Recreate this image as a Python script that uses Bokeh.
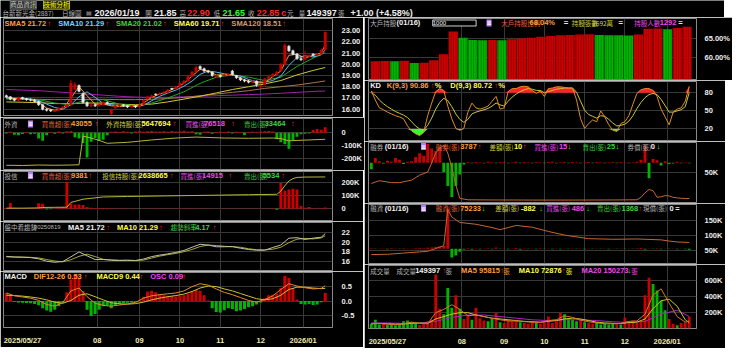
import numpy as np
from bokeh.plotting import figure
from bokeh.layouts import column, row
from bokeh.models import Range1d, FixedTicker, Label, ColumnDataSource
from bokeh.embed import file_html
from bokeh.resources import INLINE

# ---------------- data (one bar = two trading days, 2025/05/27 .. 2026/01/19) ----------------
BAR_IDX = list(range(80))
LINE_IDX2 = list(range(0, 80, 2)) + [79]
LINE_IDX4 = list(range(0, 80, 4)) + [79]

MONTH_TICKS = [22.5, 33, 43, 53, 63, 73.5]
AXIS_TICKS = [4, 22.5, 33, 43, 53, 63, 73.5]
AXIS_LABELS = ["2025/05/27", "08", "09", "10", "11", "12", "2026/01"]

OPEN = [17.20, 17.10, 16.90, 16.80, 17.05, 16.95, 16.85, 16.80, 16.70, 16.40,
        16.00, 15.95, 15.80, 15.90, 16.10, 16.20, 16.40, 17.80, 18.10, 17.40,
        16.60, 16.30, 16.40, 16.30, 16.40, 16.60, 15.60, 16.10, 16.30, 16.40,
        16.30, 16.20, 16.30, 16.20, 16.40, 16.90, 17.10, 17.35, 17.30, 17.40,
        17.50, 17.85, 17.80, 18.00, 18.30, 18.50, 18.90, 19.30, 19.80, 19.60,
        19.40, 19.30, 18.90, 19.00, 18.95, 19.05, 19.40, 19.00, 18.80, 18.60,
        18.50, 18.40, 18.50, 18.00, 18.20, 18.70, 18.90, 19.10, 19.40, 20.00,
        21.60, 21.20, 20.90, 20.50, 20.40, 20.70, 20.90, 20.80, 20.90, 21.30]
CLOSE = [17.10, 16.90, 16.80, 17.00, 16.95, 16.85, 16.80, 16.70, 16.40, 16.00,
         15.90, 15.85, 15.90, 16.10, 16.20, 16.40, 18.30, 18.20, 17.60, 16.60,
         16.30, 16.40, 16.30, 16.40, 16.60, 16.50, 15.95, 16.30, 16.40, 16.30,
         16.20, 16.30, 16.20, 16.40, 16.80, 17.10, 17.20, 17.30, 17.40, 17.50,
         17.70, 17.80, 18.00, 18.30, 18.50, 18.90, 19.30, 19.70, 19.60, 19.40,
         19.30, 19.00, 19.00, 18.90, 19.05, 19.10, 19.10, 18.80, 18.60, 18.50,
         18.40, 18.50, 18.20, 18.10, 18.70, 18.90, 19.10, 19.30, 20.00, 21.70,
         21.20, 20.90, 20.50, 20.40, 20.70, 20.80, 20.80, 20.90, 21.25, 22.85]
HIGH = [17.30, 17.15, 17.00, 17.10, 17.10, 17.00, 16.95, 16.90, 16.75, 16.45,
        16.10, 16.00, 16.00, 16.15, 16.30, 16.50, 18.60, 18.40, 18.20, 17.50,
        16.70, 16.50, 16.50, 16.50, 16.70, 16.70, 16.05, 16.40, 16.45, 16.45,
        16.35, 16.35, 16.35, 16.45, 16.90, 17.20, 17.30, 17.40, 17.50, 17.60,
        17.80, 17.90, 18.10, 18.40, 18.60, 19.00, 19.40, 19.90, 19.90, 19.70,
        19.50, 19.35, 19.10, 19.10, 19.15, 19.20, 19.50, 19.05, 18.85, 18.70,
        18.60, 18.60, 18.55, 18.20, 18.80, 19.00, 19.20, 19.40, 20.10, 21.85,
        21.70, 21.30, 21.00, 20.70, 21.20, 20.90, 21.00, 21.00, 21.40, 22.90]
LOW = [17.00, 16.80, 16.70, 16.75, 16.85, 16.75, 16.70, 16.60, 16.30, 15.90,
       15.80, 15.75, 15.75, 15.85, 16.05, 16.15, 16.30, 17.70, 17.50, 16.50,
       16.20, 16.20, 16.20, 16.25, 16.35, 16.40, 15.50, 16.05, 16.20, 16.20,
       16.10, 16.15, 16.10, 16.15, 16.35, 16.85, 17.00, 17.20, 17.25, 17.35,
       17.45, 17.70, 17.75, 17.95, 18.25, 18.45, 18.85, 19.25, 19.50, 19.30,
       19.20, 18.90, 18.85, 18.80, 18.90, 19.00, 19.00, 18.70, 18.50, 18.40,
       18.30, 18.35, 18.00, 17.95, 18.15, 18.65, 18.85, 19.05, 19.35, 19.95,
       21.10, 20.80, 20.40, 20.30, 20.35, 20.60, 20.70, 20.75, 20.85, 21.20]

SMA5 = [17.10, 16.95, 16.92, 16.85, 16.60, 16.10, 15.90, 16.05, 17.00, 18.00,
        17.20, 16.45, 16.45, 16.30, 16.25, 16.30, 16.25, 16.55, 17.05, 17.35,
        17.60, 17.90, 18.30, 18.95, 19.55, 19.40, 19.05, 19.05, 19.10, 18.75,
        18.50, 18.35, 18.35, 18.90, 19.40, 20.80, 20.90, 20.55, 20.80, 21.00, 21.72]
SMA10 = [17.00, 16.98, 16.95, 16.90, 16.78, 16.45, 16.15, 16.00, 16.40, 17.10,
         17.55, 17.05, 16.50, 16.40, 16.30, 16.30, 16.25, 16.35, 16.75, 17.15,
         17.45, 17.70, 18.05, 18.50, 19.10, 19.40, 19.30, 19.15, 19.05, 18.95,
         18.65, 18.45, 18.40, 18.55, 18.95, 19.90, 20.60, 20.75, 20.65, 20.85, 21.29]
SMA20 = [16.95, 16.95, 16.85, 16.55, 16.40, 16.85, 16.85, 16.45, 16.30, 16.55,
         17.00, 17.55, 18.30, 18.85, 19.05, 18.85, 18.55, 18.85, 19.80, 20.55, 21.02]
SMA60 = [16.65, 16.62, 16.58, 16.50, 16.50, 16.55, 16.55, 16.45, 16.40, 16.45,
         16.65, 16.90, 17.15, 17.45, 17.75, 18.00, 18.25, 18.55, 19.05, 19.45, 19.71]
SMA120 = [16.90, 16.90, 16.88, 16.85, 16.85, 16.88, 16.88, 16.85, 16.85, 16.88,
          16.95, 17.05, 17.20, 17.35, 17.50, 17.65, 17.85, 18.00, 18.15, 18.35, 18.51]
SMA240 = [17.75, 17.70, 17.65, 17.55, 17.45, 17.35, 17.25, 17.15, 17.08, 17.05,
          17.05, 17.10, 17.15, 17.20, 17.25, 17.30, 17.35, 17.42, 17.50, 17.58, 17.62]

FOREIGN_NET = [-5000, 8000, -15000, -20000, -10000, 6000, -12000, -8000, -45000, -62000,
               -20000, 5000, -8000, 10000, -6000, 12000, 15000, -35000, -45000, -80000,
               -195000, -70000, -40000, -65000, -55000, -20000, 8000, 10000, 6000, 12000,
               8000, -5000, 10000, 14000, 9000, 12000, 15000, 8000, 11000, 13000,
               9000, 14000, 10000, 12000, 16000, 10000, 13000, -12000, -15000, 8000,
               10000, -8000, 6000, 9000, 7000, 11000, -6000, 8000, 5000, -18000,
               6000, 9000, 7000, 10000, 12000, 14000, 10000, -50000, -75000, -90000,
               -125000, -60000, -30000, -12000, -8000, -5000, 22000, 30000, 25000, 43055]
FOREIGN_HOLD_X = [0, 4, 8, 12, 16, 18, 19, 21, 23, 25, 30, 36, 42, 47, 54, 60, 66, 68, 70, 72, 75, 79]
FOREIGN_HOLD = [4560000, 4550000, 4570000, 4560000, 4570000, 4580000, 5780000, 5700000, 5600000,
                5480000, 5520000, 5620000, 5700000, 5740000, 5700000, 5690000, 5700000, 5680000,
                5580000, 5600000, 5620000, 5647694]

TRUST_NET = [5000, 45000, 8000, 3000, 2000, 4000, 3000, 6000, 42000, 38000,
             -6000, -4000, 2000, 8000, 12000, 210000, 40000, 30000, 32000, 28000,
             12000, 8000, 6000, 5000, 6000, 4000, 3000, 2000, 3000, 2000,
             1000, 2000, 1000, -2000, 1000, 2000, 1000, 2000, 3000, 1000,
             2000, 1000, 2000, 1000, 3000, 2000, 4000, 2000, 1000, 2000,
             1000, 1000, -1000, 2000, 1000, 1000, 2000, 1000, 1000, 2000,
             1000, 1000, 1000, 2000, 1000, 2000, 3000, -8000, 200000, 140000,
             150000, 155000, 150000, 20000, 8000, 12000, 4000, 2000, 3000, 9381]
TRUST_HOLD_X = [0, 4, 8, 9, 12, 15, 16, 19, 24, 30, 40, 50, 60, 67, 68, 69, 70, 71, 72, 74, 79]
TRUST_HOLD = [20000, 20000, 40000, 80000, 90000, 100000, 500000, 770000, 960000, 1000000,
              1050000, 1100000, 1150000, 1180000, 1450000, 1900000, 2300000, 2500000,
              2600000, 2630000, 2638665]

OSC = [0.28, 0.20, -0.03, -0.05, -0.06, -0.07, -0.08, -0.10, -0.15, -0.25,
       -0.33, -0.37, -0.30, -0.18, -0.05, 0.30, 0.75, 0.90, 0.80, 0.35,
       -0.30, -0.52, -0.45, -0.30, -0.18, -0.15, -0.25, -0.15, -0.10, -0.08,
       -0.06, -0.05, -0.03, 0.02, 0.15, 0.33, 0.36, 0.30, 0.24, 0.20,
       0.18, 0.17, 0.16, 0.18, 0.20, 0.25, 0.33, 0.38, 0.36, 0.20,
       0.02, -0.25, -0.38, -0.40, -0.32, -0.25, -0.28, -0.36, -0.33, -0.28,
       -0.22, -0.18, -0.12, -0.05, 0.10, 0.20, 0.22, 0.25, 0.45, 0.87,
       0.80, 0.45, 0.05, -0.10, -0.12, -0.10, -0.14, -0.12, -0.04, 0.28]
DIF = [0.28, 0.18, 0.14, 0.10, 0.02, -0.12, -0.18, -0.05, 0.35, 0.45,
       0.15, -0.08, -0.15, -0.18, -0.14, -0.10, -0.05, 0.10, 0.18, 0.22,
       0.25, 0.28, 0.35, 0.50, 0.60, 0.55, 0.42, 0.30, 0.22, 0.12,
       0.02, -0.04, 0.05, 0.18, 0.40, 0.60, 0.52, 0.46, 0.42, 0.44, 0.53]
MACD9 = [0.20, 0.19, 0.17, 0.14, 0.10, 0.04, -0.04, -0.08, 0.02, 0.20,
         0.25, 0.15, 0.04, -0.06, -0.10, -0.11, -0.09, -0.04, 0.04, 0.10,
         0.15, 0.19, 0.24, 0.33, 0.45, 0.52, 0.50, 0.42, 0.35, 0.26,
         0.17, 0.08, 0.04, 0.08, 0.20, 0.40, 0.48, 0.48, 0.45, 0.43, 0.44]

BIG_HOLDER_PCT = [59.10, 59.15, 59.10, 59.20, 58.60, 58.70, 59.30, 60.90, 66.80, 65.20,
                  64.60, 64.55, 64.60, 64.50, 64.80, 65.00, 65.20, 65.40, 65.60, 65.80,
                  65.90, 66.00, 66.10, 65.90, 65.85, 65.80, 65.75, 66.00, 67.50, 67.60,
                  67.40, 67.70, 68.04]

K_VAL = [83, 68, 55, 52, 48, 45, 42, 40, 37, 25,
         17, 12, 9, 14, 42, 63, 82, 87, 84, 58,
         37, 21, 18, 21, 48, 63, 55, 53, 55, 58,
         66, 74, 53, 55, 82, 87, 87, 90, 91, 90,
         84, 79, 83, 74, 87, 88, 90, 90, 89, 88,
         88, 68, 37, 21, 29, 35, 32, 50, 40, 27,
         18, 16, 29, 32, 42, 61, 79, 85, 87, 87,
         84, 74, 53, 40, 27, 48, 53, 55, 66, 90.86]
D_VAL = [80, 76, 68, 62, 57, 53, 49, 46, 43, 39,
         32, 25, 20, 18, 26, 38, 53, 64, 71, 67,
         57, 45, 36, 31, 36, 45, 48, 50, 52, 54,
         58, 63, 60, 58, 66, 73, 78, 82, 85, 87,
         86, 84, 84, 80, 82, 84, 86, 87, 88, 88,
         88, 81, 66, 51, 44, 41, 38, 42, 41, 36,
         30, 25, 26, 28, 33, 42, 54, 64, 72, 77,
         79, 77, 69, 59, 48, 48, 50, 52, 57, 80.72]

SHORT_X = [0, 2, 5, 7, 10, 12, 14, 15, 16, 17, 18, 19, 20, 21, 22, 24, 30, 40, 50, 60,
           66, 67, 68, 69, 70, 71, 72, 73, 74, 75, 76, 77, 78, 79]
SHORT_BAL = [31000, 36000, 32500, 32500, 37000, 46000, 51500, 68000, 86000, 95000,
             100000, 86000, 60000, 28000, 4000, 1500, 1200, 1000, 1000, 1200,
             1500, 6000, 14000, 20000, 18000, 6000, 7000, 9000, 8500, 6000,
             5000, 4200, 3900, 3787]
SHORT_CHG = [-1400, 1000, 300, -200, 400, 200, 1000, 600, -300, 200,
             300, 1200, 2000, 1500, 4000, 3000, 2500, 3200, -2000, -5000,
             -7300, -5000, -2500, -400, 150, -100, 120, 100, -150, 200,
             100, -100, 150, 120, -120, 100, 200, -100, 150, 100,
             -150, 120, 100, -100, 150, 200, -150, 100, 120, -100,
             150, 100, -120, 100, 150, -100, 120, 100, -150, 100,
             120, -100, 150, 100, -120, 100, 200, 600, 3700, -3300,
             800, 500, -600, 300, -300, -200, 200, -150, 100, -100]

MARGIN_X = [0, 4, 8, 12, 14, 16, 17, 18, 19, 20, 22, 26, 30, 32, 34, 36, 40, 44, 48, 54,
            60, 66, 70, 72, 74, 76, 78, 79]
MARGIN_BAL = [35000, 36000, 40000, 44000, 46000, 55000, 60000, 65000, 185000, 160000,
              142000, 136000, 125000, 118000, 125000, 132000, 126000, 112000, 100000, 88000,
              86000, 87000, 85000, 84000, 80000, 77000, 76000, 75233]
MARGIN_CHG = [500, -300, 400, 300, -500, 600, 400, -300, 500, 300,
              400, 600, 800, 500, 1000, 1500, 2000, 2300, 3000, 42000,
              -9000, -7000, -3000, -800, 500, -600, 400, -500, 300, 600,
              -400, 1500, -300, 400, -500, 300, 800, -600, 400, -300,
              300, -400, 500, -300, 400, -500, 300, -400, 300, -300,
              400, -300, 300, -400, 300, -300, 400, -300, 300, -400,
              300, -300, 400, -300, 300, -200, 500, 800, -600, 400,
              -300, 600, -500, 300, -300, 400, -400, 300, -500, -882]

VOLUME = [60000, 110000, 50000, 70000, 45000, 55000, 40000, 50000, 90000, 100000,
          80000, 60000, 45000, 60000, 90000, 110000, 680000, 250000, 180000, 510000,
          260000, 420000, 250000, 120000, 170000, 110000, 260000, 130000, 100000, 90000,
          120000, 200000, 80000, 70000, 110000, 90000, 100000, 80000, 70000, 60000,
          90000, 70000, 60000, 80000, 150000, 70000, 90000, 200000, 180000, 130000,
          110000, 90000, 120000, 80000, 70000, 60000, 80000, 50000, 60000, 50000,
          70000, 60000, 50000, 140000, 80000, 100000, 70000, 90000, 420000, 640000,
          560000, 480000, 350000, 230000, 120000, 60000, 40000, 70000, 80000, 149397]
VOL_MA5 = [60000, 65000, 55000, 50000, 60000, 80000, 65000, 60000, 200000, 240000,
           300000, 240000, 160000, 170000, 150000, 130000, 110000, 95000, 95000, 85000,
           80000, 75000, 100000, 110000, 160000, 140000, 105000, 85000, 70000, 60000,
           60000, 65000, 90000, 95000, 180000, 420000, 500000, 320000, 150000, 80000, 95815]
VOL_MA10 = [60000, 62000, 60000, 55000, 55000, 65000, 70000, 65000, 120000, 150000,
            180000, 200000, 200000, 170000, 150000, 130000, 120000, 110000, 100000, 90000,
            85000, 80000, 90000, 100000, 120000, 130000, 120000, 100000, 80000, 70000,
            65000, 62000, 75000, 80000, 120000, 250000, 350000, 370000, 280000, 110000, 72876]
VOL_MA20 = [70000, 70000, 65000, 65000, 90000, 140000, 170000, 170000, 150000, 130000,
            110000, 100000, 110000, 110000, 100000, 85000, 75000, 90000, 180000, 230000, 150273]

# ---------------- style ----------------
RED = "#cc0000"
GREEN = "#00b400"
WHITE_C = "#e8e8e8"
GRID_C = "#383838"
FRAME_C = "#8a8a8a"
ORANGE = "#ff9c3a"
ORG_RED = "#e8603a"
BLUE_T = "#78d0ff"
GREEN_T = "#3cd23c"
YELLOW = "#ffff46"
OLIVE = "#d2d23c"
TAN = "#d29b6e"
MAGENTA = "#ee48ee"
WHITE = "#f0f0f0"
GRAY = "#b4b4b4"
RED_A = "#ff2a2a"
GREEN_A = "#2aff2a"
SX, SY = 0.978, 0.955

XR = Range1d(-0.7, 80.8)
x = np.array(BAR_IDX)


def base_fig(fw, fh, yr, left, right, top, bottom, xaxis=False):
    p = figure(frame_width=fw, frame_height=fh, x_range=XR, y_range=yr,
               x_axis_location="below" if xaxis else None, y_axis_location="right",
               output_backend="svg", toolbar_location=None,
               background_fill_color="black", border_fill_color="black",
               min_border_left=left, min_border_right=right,
               min_border_top=top, min_border_bottom=bottom)
    p.outline_line_color = FRAME_C
    p.xgrid.ticker = FixedTicker(ticks=MONTH_TICKS)
    p.xgrid.grid_line_color = GRID_C
    p.ygrid.grid_line_color = GRID_C
    if xaxis:
        p.xaxis.ticker = FixedTicker(ticks=AXIS_TICKS)
        p.xaxis.major_label_overrides = {t: s for t, s in zip(AXIS_TICKS, AXIS_LABELS)}
        p.xaxis.axis_line_color = None
        p.xaxis.major_tick_line_color = None
        p.xaxis.minor_tick_line_color = None
        p.xaxis.major_label_text_font = "Liberation Sans"
        p.xaxis.major_label_text_font_style = "bold"
        p.xaxis.major_label_text_font_size = "7.5px"
        p.xaxis.major_label_text_color = "#ece8b0"
        p.xaxis.major_label_standoff = 2
    return p


def style_y(p, ticks, labels, standoff=3):
    p.yaxis.ticker = FixedTicker(ticks=ticks)
    p.ygrid.ticker = FixedTicker(ticks=ticks)
    p.yaxis.major_label_overrides = {t: s for t, s in zip(ticks, labels)}
    p.yaxis.axis_line_color = None
    p.yaxis.major_tick_line_color = None
    p.yaxis.minor_tick_line_color = None
    p.yaxis.major_label_text_font = "Liberation Sans"
    p.yaxis.major_label_text_font_style = "bold"
    p.yaxis.major_label_text_font_size = "7.5px"
    p.yaxis.major_label_text_color = "#ececec"
    p.yaxis.major_label_standoff = standoff


def txt(p, fh, fx, fy, items):
    for text, xr, yr, color, kind in items:
        kw = dict(x=(xr - fx) * SX, y=fh - (yr - fy) * SY, x_units="screen", y_units="screen",
                  text=text, text_color=color, text_baseline="middle", text_align="left")
        if kind == "n":
            kw.update(text_font="Liberation Sans", text_font_style="bold", text_font_size="7.5px")
        elif kind == "N":
            kw.update(text_font="Liberation Sans", text_font_style="bold", text_font_size="9px")
        elif kind == "c":
            kw.update(text_font="Noto Sans CJK TC", text_font_size="6.5px")
        elif kind == "s":
            kw.update(text_font="Liberation Sans", text_font_size="6px")
        elif kind == "i":
            kw.update(text_font="DejaVu Sans", text_font_style="bold", text_font_size="6px",
                      background_fill_color="#b47cf0")
        elif kind == "t1":
            kw.update(text_font="Noto Sans CJK TC", text_font_size="6.5px",
                      background_fill_color="#303030", border_line_color="#707070")
        elif kind == "t2":
            kw.update(text_font="Noto Sans CJK TC", text_font_size="6.5px",
                      background_fill_color="#262600", border_line_color="#b8b800")
        elif kind == "b":
            kw.update(text_font="Liberation Sans", text_font_size="6px",
                      background_fill_color="black", border_line_color="#d0d0d0")
        p.add_layout(Label(**kw))


def sign_colors(vals):
    return [RED if v >= 0 else GREEN for v in vals]


# ---------------- header ----------------
hdr = figure(frame_width=724, frame_height=17, x_range=(0, 1), y_range=(0, 1),
             x_axis_location=None, y_axis_location=None, output_backend="svg",
             toolbar_location=None, background_fill_color="black", border_fill_color="black",
             min_border=0)
hdr.outline_line_color = None
hdr.grid.visible = False
L1, L2 = 3.8, 12.6
txt(hdr, 17, 0, 0, [
    ("商品資訊", 10, L1, "#c8c8c8", "t1"), ("技術分析", 44, L1, "#ffff20", "t2"),
    ("台新新光金(2887)", 2, L2, GRAY, "c"), ("日線圖", 63, L2, GRAY, "c"), ("▤", 87, L2, GRAY, "s"),
    ("2026/01/19", 96, L2, WHITE, "N"), ("開", 148, L2, GRAY, "c"), ("21.85", 157, L2, WHITE, "N"),
    ("高", 183, L2, GRAY, "c"), ("22.90", 191, L2, RED_A, "N"), ("低", 218, L2, GRAY, "c"),
    ("21.65", 227, L2, GREEN_A, "N"), ("收", 253, L2, GRAY, "c"), ("22.85", 262, L2, RED_A, "N"),
    ("c", 287, L2, RED_A, "N"), ("元", 293, L2, GRAY, "c"), ("量", 305, L2, GRAY, "c"),
    ("149397", 313, L2, WHITE, "N"), ("張", 345, L2, GRAY, "c"), ("+1.00 (+4.58%)", 358, L2, WHITE, "N"),
])

# ---------------- left column ----------------
LW, LL, LR = 329, 3, 31
RW, RL, RR = 328, 4, 29

# price
FH = 97
p1 = base_fig(LW, FH, Range1d(15.44, 24.07), LL, LR, 1, 2)
style_y(p1, [16, 17, 18, 19, 20, 21, 22, 23], ["16.00", "17.00", "18.00", "19.00", "20.00", "21.00", "22.00", "23.00"])
ccol = [RED if c >= o else WHITE_C for o, c in zip(OPEN, CLOSE)]
src = ColumnDataSource(dict(x=x, h=HIGH, l=LOW, top=np.maximum(OPEN, CLOSE), bot=np.minimum(OPEN, CLOSE), col=ccol))
for vals, xs, col in [(SMA240, LINE_IDX4, "#a020a8"), (SMA120, LINE_IDX4, "#a8744a"),
                      (SMA60, LINE_IDX4, "#c8c832"), (SMA20, LINE_IDX4, "#1fa81f"),
                      (SMA10, LINE_IDX2, "#58b8f0"), (SMA5, LINE_IDX2, "#ff9933")]:
    p1.line(xs, vals, line_color=col, line_width=1)
p1.segment(x0="x", y0="l", x1="x", y1="h", line_color="col", source=src)
p1.vbar(x="x", width=0.6, top="top", bottom="bot", fill_color="col", line_color="col", line_width=0.5, source=src)
txt(p1, FH, 2, 18.3, [
    ("SMA5 21.72", 3, 24, ORANGE, "n"), ("↑", 47, 24, RED_A, "n"),
    ("SMA10 21.29", 58, 24, BLUE_T, "n"), ("↑", 106, 24, RED_A, "n"),
    ("SMA20 21.02", 117, 24, GREEN_T, "n"), ("↑", 165, 24, RED_A, "n"),
    ("SMA60 19.71", 176, 24, YELLOW, "n"), ("↑", 224, 24, RED_A, "n"),
    ("SMA120 18.51", 235, 24, TAN, "n"), ("↑", 287, 24, RED_A, "n"),
])

# foreign
FH = 51
p2 = base_fig(LW, FH, Range1d(-289000, 113000), LL, LR, 1, 1)
style_y(p2, [-200000, -100000, 0], ["-200K", "-100K", "0"])
p2.extra_y_ranges = {"hold": Range1d(4382000, 6518000)}
p2.vbar(x=x, width=0.7, top=FOREIGN_NET, bottom=0, fill_color=sign_colors(FOREIGN_NET), line_color=None)
p2.line(FOREIGN_HOLD_X, FOREIGN_HOLD, y_range_name="hold", line_color="#b4b43c", line_width=1)
YF = 129
txt(p2, FH, 2, 123.3, [
    ("外資", 3, YF, GRAY, "c"), ("≡", 27, YF, "white", "i"),
    ("買賣超(張)", 41, YF, ORG_RED, "c"), ("43055", 71, YF, ORANGE, "n"), ("↑", 95, YF, RED_A, "n"),
    ("外資持股(張)", 107, YF, OLIVE, "c"), ("5647694", 143, YF, YELLOW, "n"), ("↑", 175, YF, RED_A, "n"),
    ("買進(張)", 188, YF, MAGENTA, "c"), ("76518", 207, YF, MAGENTA, "n"), ("↑", 235, YF, RED_A, "n"),
    ("賣出(張)", 248, YF, GREEN_T, "c"), ("33464", 269, YF, GREEN_T, "n"), ("↑", 296, YF, RED_A, "n"),
])

# trust
FH = 49
p3 = base_fig(LW, FH, Range1d(-92000, 289000), LL, LR, 1, 1)
style_y(p3, [0, 100000, 200000], ["0", "100K", "200K"])
p3.extra_y_ranges = {"hold": Range1d(-1016000, 3096000)}
p3.vbar(x=x, width=0.7, top=TRUST_NET, bottom=0, fill_color=sign_colors(TRUST_NET), line_color=None)
p3.line(TRUST_HOLD_X, TRUST_HOLD, y_range_name="hold", line_color="#b4b43c", line_width=1)
YT = 183.5
txt(p3, FH, 2, 179.3, [
    ("投信", 3, YT, GRAY, "c"), ("≡", 27, YT, "white", "i"),
    ("買賣超(張)", 41, YT, ORG_RED, "c"), ("9381", 71, YT, ORANGE, "n"), ("↑", 89, YT, RED_A, "n"),
    ("投信持股(張)", 103, YT, OLIVE, "c"), ("2638665", 140, YT, YELLOW, "n"), ("↑", 172, YT, RED_A, "n"),
    ("買進(張)", 183, YT, MAGENTA, "c"), ("14915", 205, YT, MAGENTA, "n"), ("↑", 232, YT, RED_A, "n"),
    ("賣出(張)", 248, YT, GREEN_T, "c"), ("5534", 267, YT, GREEN_T, "n"), ("↑", 286, YT, RED_A, "n"),
])

# intraday trend
FH = 48
p4 = base_fig(LW, FH, Range1d(14.22, 23.99), LL, LR, 1, 1)
style_y(p4, [16, 18, 20, 22], ["16", "18", "20", "22"])
p4.line(LINE_IDX2, SMA10, line_color="#a8a830", line_width=1)
p4.line(LINE_IDX2, SMA5, line_color="#c0c0a8", line_width=1)
YP = 237.5
txt(p4, FH, 2, 232.3, [
    ("盤中看趨勢", 3, YP, GRAY, "c"), ("-20250819", 31, YP, GRAY, "s"),
    ("MA5 21.72", 68, YP, WHITE, "n"), ("↑", 107, YP, RED_A, "n"),
    ("MA10 21.29", 118, YP, YELLOW, "n"), ("↑", 161, YP, RED_A, "n"),
    ("趨勢斜率", 173, YP, GREEN_T, "c"), ("4.17", 198, YP, GREEN_T, "n"), ("↑", 216, YP, RED_A, "n"),
])

# MACD
FH = 55
p5 = base_fig(LW, FH, Range1d(-0.92, 0.99), LL, LR, 1, 14, xaxis=True)
style_y(p5, [-0.5, 0, 0.5], ["-0.5", "0.0", "0.5"])
p5.vbar(x=x, width=0.75, top=OSC, bottom=0, fill_color=sign_colors(OSC), line_color=None)
p5.line(LINE_IDX2, MACD9, line_color="#c8c040", line_width=1)
p5.line(LINE_IDX2, DIF, line_color="#e08a2a", line_width=1)
YM = 290
txt(p5, FH, 2, 285.3, [
    ("MACD", 3, YM, WHITE, "n"),
    ("DIF12-26 0.53", 33, YM, ORANGE, "n"), ("↑", 84, YM, RED_A, "n"),
    ("MACD9 0.44", 97, YM, YELLOW, "n"), ("↑", 141, YM, RED_A, "n"),
    ("OSC 0.09", 152, YM, MAGENTA, "n"), ("↑", 185, YM, RED_A, "n"),
])

# ---------------- right column ----------------
FX = 378.3
# big holders
FH = 61
DAH_RANGE = Range1d(54.33, 70.17)
q1 = base_fig(RW, FH, DAH_RANGE, RL, RR, 1, 1)
style_y(q1, [60, 65], ["60.00%", "65.00%"], standoff=2)
week_x = 1.0 + 2.42 * np.arange(len(BIG_HOLDER_PCT))
wcol = [RED] + [RED if b > a else GREEN for a, b in zip(BIG_HOLDER_PCT[:-1], BIG_HOLDER_PCT[1:])]
q1.vbar(x=week_x, width=2.3, top=BIG_HOLDER_PCT, bottom=DAH_RANGE.start, fill_color=wcol,
        line_color=None, hatch_pattern="|", hatch_color="black", hatch_alpha=0.45,
        hatch_scale=2.5, hatch_weight=0.6)
YB = 22.7
txt(q1, FH, FX, 18, [
    ("大戶持股", 380, YB, GRAY, "c"), ("(01/16)", 407, YB, WHITE, "n"),
    ("1000" + "\u2003" * 5, 444, YB, WHITE, "b"), ("≡", 499, YB, "white", "i"),
    ("大戶持股比例", 514, YB, ORG_RED, "c"), ("68.04%", 543, YB, ORANGE, "n"), ("=", 578, YB, YELLOW, "n"),
    ("持股張數", 586, YB, OLIVE, "c"), ("1692萬", 607, YB, OLIVE, "c"), ("=", 634, YB, YELLOW, "n"),
    ("持股人數", 650, YB, MAGENTA, "c"), ("1292", 676, YB, MAGENTA, "n"), ("=", 695, YB, YELLOW, "n"),
])

# KD
FH = 59
q2 = base_fig(RW, FH, Range1d(0.9, 98.8), RL, RR, 1, 1)
style_y(q2, [20, 50, 80], ["20", "50", "80"], standoff=2)
kv = np.array(K_VAL, dtype=float)
q2.varea(x=x, y1=80, y2=np.maximum(kv, 80), fill_color="#ff2424")
q2.varea(x=x, y1=np.minimum(kv, 20), y2=20, fill_color="#30ff30")
q2.line(x, D_VAL, line_color="#c8c83c", line_width=1)
q2.line(x, K_VAL, line_color="#e08a2a", line_width=1)
YK = 88
txt(q2, FH, FX, 83.5, [
    ("KD", 380, YK, WHITE, "n"),
    ("K(9,3) 90.86", 397, YK, ORANGE, "n"), ("↑", 442, YK, RED_A, "n"), ("%", 446, YK, YELLOW, "n"),
    ("D(9,3) 80.72", 462, YK, YELLOW, "n"), ("↑", 507, YK, RED_A, "n"), ("%", 511, YK, YELLOW, "n"),
])

# short selling
FH = 60
q3 = base_fig(RW, FH, Range1d(-3400, 105000), RL, RR, 1, 1)
style_y(q3, [50000], ["50K"], standoff=2)
q3.extra_y_ranges = {"chg": Range1d(-8500, 4300)}
q3.vbar(x=x, width=0.7, top=SHORT_CHG, bottom=0, fill_color=sign_colors(SHORT_CHG), line_color=None, y_range_name="chg")
q3.line(SHORT_X, SHORT_BAL, line_color="#c8642e", line_width=1)
YS = 152.7
txt(q3, FH, FX, 148.5, [
    ("融券", 380, YS, GRAY, "c"), ("(01/16)", 395, YS, WHITE, "n"), ("≡", 432, YS, "white", "i"),
    ("融券(張)", 447, YS, ORG_RED, "c"), ("3787", 472, YS, ORANGE, "n"), ("↑", 490, YS, RED_A, "n"),
    ("差額(張)", 502, YS, OLIVE, "c"), ("10", 527, YS, YELLOW, "n"), ("↑", 536, YS, RED_A, "n"),
    ("買進(張)", 548, YS, MAGENTA, "c"), ("15", 573, YS, MAGENTA, "n"), ("↓", 582, YS, GREEN_A, "n"),
    ("賣出(張)", 597, YS, GREEN_T, "c"), ("25", 622, YS, GREEN_T, "n"), ("↓", 631, YS, GREEN_A, "n"),
    ("券償(張)", 643, YS, GRAY, "c"), ("0", 667, YS, WHITE, "n"), ("↓", 673, YS, GREEN_A, "n"),
])

# margin
FH = 59
q4 = base_fig(RW, FH, Range1d(5300, 201800), RL, RR, 1, 1)
style_y(q4, [50000, 100000, 150000], ["50K", "100K", "150K"], standoff=2)
q4.extra_y_ranges = {"chg": Range1d(-15300, 46200)}
q4.vbar(x=x, width=0.7, top=MARGIN_CHG, bottom=0, fill_color=sign_colors(MARGIN_CHG), line_color=None, y_range_name="chg")
q4.line(MARGIN_X, MARGIN_BAL, line_color="#c8642e", line_width=1)
YG = 218.3
txt(q4, FH, FX, 214.5, [
    ("融資", 380, YG, GRAY, "c"), ("(01/16)", 395, YG, WHITE, "n"), ("≡", 432, YG, "white", "i"),
    ("融資(張)", 447, YG, ORG_RED, "c"), ("75233", 472, YG, ORANGE, "n"), ("↓", 494, YG, GREEN_A, "n"),
    ("差額(張)", 508, YG, OLIVE, "c"), ("-882", 534, YG, YELLOW, "n"), ("↓", 553, YG, GREEN_A, "n"),
    ("買進(張)", 560, YG, MAGENTA, "c"), ("486", 586, YG, MAGENTA, "n"), ("↓", 601, YG, GREEN_A, "n"),
    ("賣出(張)", 612, YG, GREEN_T, "c"), ("1368", 637, YG, GREEN_T, "n"), ("↑", 654, YG, RED_A, "n"),
    ("現償(張)", 659, YG, GRAY, "c"), ("0", 686, YG, WHITE, "n"), ("=", 692, YG, WHITE, "n"),
])

# volume
FH = 63
q5 = base_fig(RW, FH, Range1d(0, 794000), RL, RR, 1, 13, xaxis=True)
style_y(q5, [200000, 400000, 600000], ["200K", "400K", "600K"], standoff=2)
vcol = [RED if c >= o else GREEN for o, c in zip(OPEN, CLOSE)]
q5.vbar(x=x, width=0.7, top=VOLUME, bottom=0, fill_color=vcol, line_color=None)
q5.line(LINE_IDX4, VOL_MA20, line_color="#b020c8", line_width=1)
q5.line(LINE_IDX2, VOL_MA10, line_color="#c8c828", line_width=1)
q5.line(LINE_IDX2, VOL_MA5, line_color="#d8742a", line_width=1)
YV = 284
txt(q5, FH, FX, 278.5, [
    ("成交量", 380, YV, GRAY, "c"),
    ("成交量", 407, YV, GRAY, "c"), ("149397", 426, YV, WHITE, "n"), ("↑", 454, YV, RED_A, "n"), ("張", 457, YV, GRAY, "c"),
    ("MA5 95815", 473, YV, ORANGE, "n"), ("↑", 513, YV, RED_A, "n"), ("張", 516, YV, ORANGE, "c"),
    ("MA10 72876", 532, YV, YELLOW, "n"), ("↑", 576, YV, RED_A, "n"), ("張", 580, YV, YELLOW, "c"),
    ("MA20 150273", 596, YV, MAGENTA, "n"), ("↓", 643, YV, GREEN_A, "n"), ("張", 647, YV, MAGENTA, "c"),
])

layout = column(hdr, row(column(p1, p2, p3, p4, p5), column(q1, q2, q3, q4, q5)))
open("out.html", "w").write(file_html(layout, INLINE))
